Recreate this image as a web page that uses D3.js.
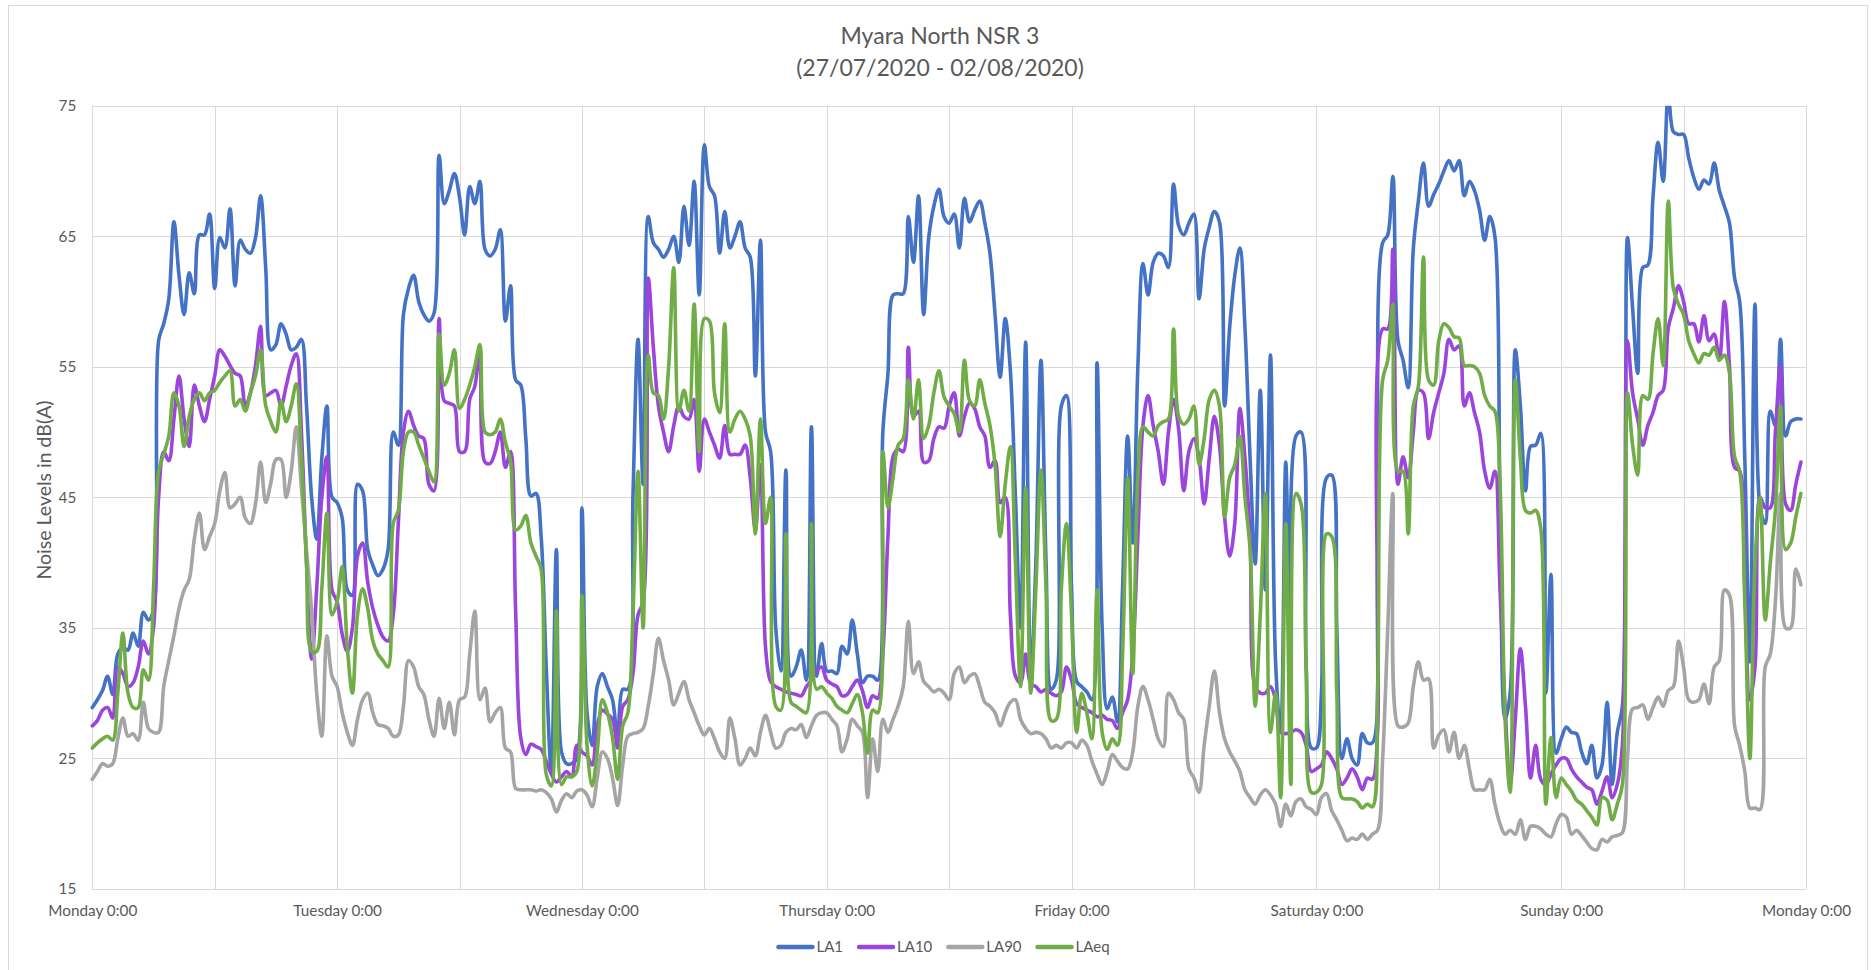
<!DOCTYPE html>
<html>
<head>
<meta charset="utf-8">
<script src="https://cdn.jsdelivr.net/npm/d3@7"></script>
<style>
  html, body { margin: 0; padding: 0; background: #ffffff; }
  svg { display: block; font-family: Lato, "Open Sans", sans-serif; }
</style>
</head>
<body>
<svg id="chart" width="1871" height="970"></svg>
<script>
// ---------------- DATA ----------------
const titleLines = ["Myara North NSR 3", "(27/07/2020 - 02/08/2020)"];
const yAxisTitle = "Noise Levels in dB(A)";
const dayLabels = ["Monday 0:00", "Tuesday 0:00", "Wednesday 0:00", "Thursday 0:00", "Friday 0:00", "Saturday 0:00", "Sunday 0:00", "Monday 0:00"];
const yTicks = [15, 25, 35, 45, 55, 65, 75];
const seriesNames = ["LA1", "LA10", "LA90", "LAeq"];
const stepHours = 0.5; // readings every 30 minutes, Monday 0:00 to Sunday 23:30

const LA1 = [
  // Mon
  28.9, 29.5, 30.2, 31.3, 29.9, 33.0, 33.5, 33.3, 34.6, 33.6, 36.2, 35.6, 36.4, 57.0, 58.3, 60.2, 66.1, 62.0, 59.0, 62.2, 60.6, 65.1, 65.1, 66.7, 61.0, 64.9, 64.1, 67.1, 61.2, 64.7, 64.0, 63.7, 64.9, 68.1, 62.6, 56.3, 56.7, 58.3, 57.5, 56.3, 56.5, 57.1, 52.0, 45.0, 41.8, 48.0, 52.0, 45.0,
  // Tue
  44.6, 43.4, 37.9, 37.5, 46.0, 45.5, 41.0, 39.8, 39.0, 39.5, 41.0, 50.0, 49.0, 59.0, 61.0, 62.0, 60.0, 59.0, 58.5, 59.1, 71.2, 67.5, 68.5, 69.8, 68.0, 65.1, 68.8, 67.5, 69.2, 64.0, 63.5, 64.0, 65.5, 58.5, 61.2, 54.0, 53.6, 49.5, 45.1, 45.3, 42.0, 32.0, 24.0, 41.0, 25.5, 24.6, 24.6, 25.0,
  // Wed
  44.2, 28.5, 26.0, 30.5, 31.5, 30.5, 29.5, 26.6, 30.3, 30.3, 45.0, 57.1, 46.0, 66.5, 64.5, 64.0, 63.4, 64.0, 65.0, 63.0, 67.3, 64.3, 69.2, 60.5, 72.0, 68.8, 68.1, 63.7, 66.9, 64.1, 65.0, 66.1, 64.1, 63.4, 54.3, 64.7, 50.0, 48.5, 35.0, 31.7, 47.1, 31.3, 32.0, 33.3, 31.0, 50.4, 31.3, 33.8,
  // Thu
  31.7, 31.7, 31.5, 33.6, 33.0, 35.6, 33.0, 30.8, 31.3, 31.3, 31.0, 50.0, 54.5, 60.5, 60.6, 60.6, 66.5, 63.0, 68.1, 59.0, 64.9, 67.3, 68.6, 66.5, 66.0, 66.7, 64.1, 67.9, 66.1, 67.0, 67.7, 66.0, 63.7, 59.0, 54.2, 58.7, 54.7, 45.0, 35.0, 56.9, 31.3, 40.0, 55.5, 40.0, 30.3, 31.0, 52.0, 52.8,
  // Fri
  38.0, 30.9, 30.5, 30.1, 29.5, 55.3, 35.0, 28.8, 29.7, 27.8, 38.0, 49.7, 41.5, 55.0, 62.9, 60.5, 63.0, 63.7, 63.5, 62.6, 69.0, 65.8, 65.1, 66.0, 66.7, 60.2, 64.0, 65.7, 66.9, 66.1, 52.0, 58.0, 62.0, 64.1, 58.0, 48.0, 39.9, 53.2, 37.9, 55.9, 32.4, 27.0, 47.7, 28.5, 49.7, 50.0, 32.0, 25.8,
  // Sat
  25.8, 30.0, 46.5, 46.7, 35.0, 25.0, 26.5, 25.0, 24.5, 26.9, 26.2, 26.2, 40.0, 64.5, 65.1, 69.6, 57.0, 55.5, 53.4, 64.0, 67.7, 70.6, 67.3, 68.2, 69.0, 70.0, 70.8, 70.0, 70.8, 68.1, 69.2, 68.5, 67.0, 64.7, 66.5, 65.0, 45.0, 28.0, 30.0, 56.3, 52.0, 45.5, 48.9, 49.0, 49.9, 30.0, 39.1, 25.4,
  // Sun
  26.5, 27.4, 27.0, 26.9, 25.5, 24.6, 26.0, 23.5, 24.5, 29.3, 23.0, 27.0, 29.0, 64.9, 59.5, 54.5, 62.6, 62.8, 68.0, 72.2, 69.2, 76.0, 73.0, 72.8, 72.8, 71.0, 69.5, 68.6, 69.3, 69.0, 70.6, 68.5, 67.3, 66.0, 61.8, 60.0, 48.0, 32.4, 59.8, 44.2, 43.0, 51.6, 50.5, 57.1, 49.7, 50.8, 51.0, 51.0
];

const LA10 = [
  // Mon
  27.5, 27.9, 28.7, 28.9, 28.1, 32.0, 31.5, 30.5, 30.8, 32.0, 34.0, 33.0, 35.0, 45.0, 48.5, 47.8, 51.0, 54.3, 51.0, 48.9, 53.6, 52.0, 50.8, 52.5, 54.3, 56.3, 55.8, 55.1, 54.5, 54.3, 52.0, 53.0, 55.1, 58.1, 52.8, 53.0, 53.2, 52.0, 53.5, 55.1, 56.0, 50.0, 40.0, 32.6, 38.0, 45.0, 48.1, 37.9,
  // Tue
  37.0, 34.5, 33.2, 35.0, 40.5, 41.5, 38.5, 36.5, 35.2, 34.3, 34.0, 36.0, 43.0, 50.0, 51.6, 50.5, 49.7, 49.5, 46.0, 45.5, 58.7, 52.4, 52.2, 52.0, 48.5, 48.5, 52.5, 53.5, 56.3, 47.7, 47.6, 48.5, 50.0, 47.3, 48.5, 36.3, 26.6, 25.3, 26.1, 25.9, 25.7, 24.8, 23.8, 23.2, 23.6, 24.0, 23.6, 26.0,
  // Wed
  25.5, 25.2, 24.5, 27.5, 28.7, 28.4, 28.0, 25.8, 29.0, 29.5, 31.5, 36.0, 37.0, 61.8, 56.5, 52.0, 50.0, 48.5, 50.5, 52.0, 51.2, 51.0, 52.5, 47.0, 51.0, 50.0, 49.0, 48.0, 50.5, 48.3, 48.3, 48.3, 49.0, 46.5, 42.5, 47.5, 33.5, 30.9, 30.5, 30.3, 30.1, 30.0, 29.9, 29.8, 30.5, 31.0, 31.7, 32.0,
  // Thu
  31.0, 30.7, 30.5, 29.8, 29.9, 30.5, 31.0, 30.2, 28.9, 29.8, 29.6, 33.0, 42.0, 48.1, 48.7, 48.5, 56.5, 51.2, 51.6, 47.7, 47.8, 49.5, 50.4, 50.3, 52.0, 53.0, 49.7, 51.2, 52.2, 51.8, 50.4, 49.7, 47.3, 47.8, 44.6, 45.0, 36.0, 31.3, 30.8, 33.0, 30.7, 30.5, 30.1, 30.3, 30.0, 29.8, 30.1, 32.0,
  // Fri
  31.0, 29.2, 28.9, 28.7, 28.5, 28.2, 28.3, 28.0, 27.9, 27.3, 28.5, 29.5, 33.0, 42.0, 50.5, 52.8, 50.5, 48.5, 46.0, 50.0, 52.5, 50.2, 45.5, 48.5, 49.5, 48.0, 44.5, 48.0, 51.2, 49.0, 43.5, 40.5, 43.0, 51.8, 48.0, 42.0, 30.5, 30.0, 30.0, 30.5, 29.5, 27.0, 26.9, 27.0, 27.2, 27.0, 26.0, 24.0,
  // Sat
  24.2, 24.5, 25.5, 25.0, 24.2, 23.0, 23.5, 24.2, 23.6, 22.6, 23.5, 23.4, 27.0, 57.9, 57.9, 64.0, 46.0, 48.1, 46.5, 50.0, 53.2, 53.0, 49.5, 51.5, 53.0, 54.5, 57.1, 56.3, 56.6, 52.0, 53.0, 51.5, 50.0, 47.0, 45.7, 47.0, 38.0, 29.0, 23.0, 28.0, 33.4, 29.0, 23.5, 26.0, 23.4, 23.0, 23.8, 24.5,
  // Sun
  25.0, 25.0, 24.2, 23.6, 23.2, 22.8, 22.6, 21.5, 22.5, 23.6, 22.0, 23.0, 26.0, 57.0, 53.0, 51.0, 49.0, 50.5, 51.5, 52.8, 53.2, 58.0, 59.5, 61.2, 60.0, 58.3, 58.3, 56.9, 58.9, 57.0, 57.5, 55.5, 60.0, 55.0, 47.3, 47.0, 38.0, 29.5, 32.0, 45.0, 44.2, 44.2, 50.0, 55.1, 44.5, 44.0, 46.0, 47.7
];

const LA90 = [
  // Mon
  23.4, 24.0, 24.6, 24.4, 24.6, 26.5, 28.1, 26.7, 26.9, 26.4, 29.3, 27.3, 27.0, 27.0, 30.5, 32.5, 34.4, 36.5, 37.9, 38.7, 41.8, 43.8, 41.0, 42.0, 43.0, 45.5, 46.9, 44.2, 44.5, 45.0, 43.4, 43.0, 44.5, 47.7, 44.6, 46.1, 47.9, 47.9, 45.0, 47.0, 50.4, 45.7, 41.0, 36.3, 30.0, 26.7, 34.4, 31.3,
  // Tue
  30.5, 28.5, 27.0, 26.0, 28.0, 29.5, 30.0, 28.5, 27.6, 27.5, 27.3, 26.7, 26.8, 29.0, 32.5, 32.0, 30.5, 29.9, 28.0, 26.7, 29.6, 27.3, 29.3, 26.8, 29.5, 29.7, 33.0, 36.3, 29.5, 30.4, 27.8, 28.5, 28.9, 25.8, 25.5, 22.7, 22.6, 22.6, 22.6, 22.5, 22.6, 22.4, 21.9, 20.9, 21.8, 22.3, 22.0, 22.5,
  // Wed
  22.6, 22.2, 21.3, 23.5, 25.5, 25.0, 23.5, 21.4, 24.5, 26.7, 26.9, 27.0, 27.3, 29.0, 31.5, 34.2, 32.5, 31.0, 29.1, 30.0, 30.9, 29.5, 28.5, 27.5, 26.8, 27.3, 26.5, 25.5, 25.0, 28.1, 26.5, 24.5, 25.0, 25.8, 25.2, 27.0, 28.3, 27.0, 25.8, 26.0, 27.0, 27.3, 27.2, 27.6, 26.6, 27.5, 28.3, 28.5,
  // Thu
  28.5, 28.0, 27.5, 25.5, 26.5, 28.0, 27.5, 27.0, 22.0, 26.5, 24.0, 28.0, 27.0, 28.0, 29.0, 30.5, 35.5, 31.5, 32.4, 30.9, 30.5, 30.1, 30.3, 30.0, 29.5, 31.5, 32.0, 30.8, 31.3, 31.5, 30.5, 29.3, 29.0, 28.5, 27.5, 28.5, 29.3, 29.5, 28.0, 27.3, 26.9, 27.0, 26.9, 26.5, 25.8, 26.0, 25.8, 26.2,
  // Fri
  26.2, 25.8, 26.4, 26.0, 24.8, 23.8, 23.0, 24.0, 25.3, 24.8, 24.3, 24.2, 25.5, 29.0, 30.5, 29.5, 28.0, 26.5, 25.9, 30.0, 29.5, 28.5, 28.0, 24.2, 23.5, 22.4, 26.0, 29.0, 31.7, 28.5, 26.5, 25.5, 24.8, 24.0, 22.6, 22.0, 21.5, 22.2, 22.6, 22.2, 21.5, 19.8, 21.5, 20.6, 21.7, 21.9, 21.3, 21.1,
  // Sat
  20.7, 22.0, 22.3, 21.0, 20.3, 19.5, 18.7, 18.9, 18.8, 19.2, 18.8, 19.2, 19.5, 25.0, 35.0, 45.3, 27.5, 27.4, 27.7, 30.5, 32.4, 31.0, 31.1, 25.8, 26.8, 27.2, 25.5, 27.0, 25.0, 26.0, 24.2, 22.6, 22.6, 22.6, 23.4, 21.5, 20.0, 19.2, 19.5, 19.2, 20.3, 18.8, 19.8, 19.8, 19.6, 19.2, 19.0, 20.0,
  // Sun
  20.7, 20.5, 19.2, 19.5, 19.1, 18.6, 18.1, 18.0, 18.8, 18.6, 19.0, 19.1, 19.3, 25.0, 28.8, 28.9, 29.1, 28.0, 28.9, 29.7, 29.0, 30.2, 30.5, 34.0, 32.0, 29.5, 29.3, 29.5, 30.7, 29.2, 32.0, 32.5, 37.9, 37.5, 27.5, 26.0, 24.0, 21.2, 21.2, 21.1, 32.0, 33.0, 37.0, 45.3, 35.0, 35.0, 39.5, 38.3
];

const LAeq = [
  // Mon
  25.8, 26.2, 26.5, 26.7, 26.4, 30.0, 34.6, 30.0, 28.9, 28.9, 31.8, 31.0, 38.0, 47.0, 48.3, 49.7, 53.0, 52.0, 48.9, 51.2, 52.5, 53.0, 52.4, 53.0, 53.2, 53.8, 54.3, 54.7, 52.0, 52.5, 51.6, 53.0, 54.3, 56.3, 52.0, 50.8, 50.0, 52.4, 50.8, 52.0, 53.7, 48.1, 40.0, 33.2, 33.2, 38.0, 43.8, 36.0,
  // Tue
  37.0, 39.7, 33.5, 30.0, 36.0, 38.0, 36.5, 34.0, 33.0, 32.5, 32.0, 43.0, 44.0, 48.5, 50.0, 50.0, 49.0, 48.0, 47.0, 46.2, 57.5, 53.6, 54.5, 56.3, 51.8, 52.5, 53.6, 55.0, 56.7, 50.0, 49.8, 50.0, 51.0, 49.2, 47.8, 42.5, 42.8, 43.6, 41.5, 40.5, 39.5, 23.8, 22.9, 36.3, 23.0, 23.6, 23.6, 24.0,
  // Wed
  37.5, 26.0, 22.9, 25.5, 29.5, 28.5, 26.6, 23.4, 27.5, 28.5, 36.0, 47.0, 35.0, 55.9, 53.0, 52.8, 51.0, 55.0, 62.6, 51.6, 53.2, 51.6, 59.8, 48.5, 58.7, 58.5, 53.0, 51.5, 58.3, 50.0, 51.0, 51.6, 51.0, 49.7, 42.2, 51.0, 43.0, 45.0, 29.0, 28.7, 42.2, 29.3, 29.0, 28.7, 28.5, 43.0, 30.3, 30.5,
  // Thu
  30.0, 29.6, 29.0, 28.7, 28.5, 29.2, 29.9, 28.5, 25.4, 28.7, 28.5, 48.5, 44.2, 46.5, 49.0, 49.5, 54.0, 51.0, 54.0, 49.5, 50.5, 53.0, 54.7, 52.7, 52.0, 51.4, 50.0, 55.5, 52.4, 52.0, 54.0, 52.2, 50.5, 47.5, 42.0, 46.0, 48.9, 40.0, 30.5, 45.7, 30.0, 38.0, 47.1, 38.0, 27.9, 28.0, 38.0, 43.0,
  // Fri
  36.0, 27.0, 30.0, 28.5, 26.5, 37.9, 27.0, 25.7, 26.5, 26.0, 33.0, 46.5, 31.5, 46.5, 50.4, 50.0, 49.7, 50.5, 50.8, 51.0, 57.9, 51.2, 50.6, 51.0, 52.0, 47.5, 49.5, 52.5, 53.2, 52.0, 43.5, 46.5, 47.5, 49.7, 45.0, 41.0, 29.0, 36.0, 45.3, 27.0, 30.0, 22.0, 43.0, 23.0, 45.3, 44.5, 32.0, 22.4,
  // Sat
  22.4, 23.0, 42.2, 42.0, 30.0, 22.0, 21.9, 21.9, 21.7, 21.2, 21.5, 21.3, 30.0, 54.0, 55.5, 59.8, 47.0, 47.0, 42.2, 52.0, 53.5, 63.4, 54.0, 53.6, 57.0, 58.3, 58.0, 57.3, 57.2, 55.1, 55.1, 55.0, 54.5, 52.8, 52.0, 51.6, 46.1, 28.0, 22.4, 54.0, 48.0, 44.0, 43.8, 44.0, 42.6, 21.5, 26.6, 22.0,
  // Sun
  23.5, 23.0, 22.5, 21.8, 21.5, 21.0, 20.5, 19.9, 22.0, 21.8, 20.3, 21.5, 23.0, 53.0, 49.0, 46.7, 52.8, 52.5, 56.0, 58.7, 55.1, 67.7, 61.0, 59.8, 59.0, 57.0, 56.0, 55.3, 56.0, 55.9, 56.5, 55.5, 55.9, 54.5, 48.1, 47.0, 37.0, 25.0, 40.0, 45.0, 35.6, 40.0, 44.0, 52.0, 41.0, 41.5, 43.5, 45.3
];

const seriesValues = [LA1, LA10, LA90, LAeq];
const seriesColors = ["#4472C4", "#9B45DC", "#A5A5A5", "#70AD47"];

// ---------------- LAYOUT ----------------
const W = 1871, H = 970;
const plot = { left: 92.3, right: 1806, top: 105.7, bottom: 889 };
const textColor = "#595959";
const gridColor = "#d9d9d9";

const svg = d3.select("#chart");

svg.append("rect")
  .attr("x", 8.5).attr("y", 5.5)
  .attr("width", 1859).attr("height", 990)
  .attr("fill", "#ffffff").attr("stroke", gridColor).attr("stroke-width", 1);

const totalHours = 24 * (dayLabels.length - 1);
const x = d3.scaleLinear().domain([0, totalHours]).range([plot.left, plot.right]);
const y = d3.scaleLinear().domain([yTicks[0], yTicks[yTicks.length - 1]]).range([plot.bottom, plot.top]);

// gridlines
const gridG = svg.append("g");
gridG.selectAll("line.h").data(yTicks).join("line")
  .attr("class", "h")
  .attr("x1", plot.left).attr("x2", plot.right)
  .attr("y1", d => Math.round(y(d)) + 0.5).attr("y2", d => Math.round(y(d)) + 0.5)
  .attr("stroke", gridColor).attr("stroke-width", 1);

const vGrid = d3.range(0, totalHours + 1, 12);
gridG.selectAll("line.v").data(vGrid).join("line")
  .attr("class", "v")
  .attr("y1", plot.top).attr("y2", plot.bottom)
  .attr("x1", d => Math.round(x(d)) + 0.5).attr("x2", d => Math.round(x(d)) + 0.5)
  .attr("stroke", gridColor).attr("stroke-width", 1);

// axes
const dayTicks = dayLabels.map((_, i) => i * 24);
const xAxis = d3.axisBottom(x).tickValues(dayTicks).tickFormat((d, i) => dayLabels[i]).tickSize(0).tickPadding(16);
const gx = svg.append("g").attr("transform", `translate(0,${plot.bottom})`).call(xAxis);
gx.select(".domain").remove();
gx.selectAll("text").attr("fill", textColor).style("font-size", "15.3px").style("font-family", "Lato, sans-serif");

const yAxis = d3.axisLeft(y).tickValues(yTicks).tickSize(0).tickPadding(16);
const gy = svg.append("g").attr("transform", `translate(${plot.left},0)`).call(yAxis);
gy.select(".domain").remove();
gy.selectAll("text").attr("fill", textColor).style("font-size", "15.3px").style("font-family", "Lato, sans-serif");

// clip
svg.append("clipPath").attr("id", "plotClip").append("rect")
  .attr("x", plot.left - 5).attr("y", plot.top)
  .attr("width", plot.right - plot.left + 10).attr("height", plot.bottom - plot.top);

// lines
const line = d3.line()
  .x((d, i) => x(i * stepHours))
  .y(d => y(d))
  .curve(d3.curveCatmullRom.alpha(0.5));

const linesG = svg.append("g").attr("clip-path", "url(#plotClip)");
seriesValues.forEach((vals, k) => {
  linesG.append("path")
    .datum(vals)
    .attr("fill", "none")
    .attr("stroke", seriesColors[k])
    .attr("stroke-width", 3.6)
    .attr("stroke-linejoin", "round")
    .attr("stroke-linecap", "round")
    .attr("d", line);
});

// title
svg.append("g").selectAll("text").data(titleLines).join("text")
  .attr("x", 940).attr("y", (d, i) => 36 + i * 32)
  .attr("dy", "0.35em")
  .attr("text-anchor", "middle")
  .attr("fill", textColor)
  .style("font-size", "23px")
  .style("font-family", "Lato, sans-serif")
  .text(d => d);

// y axis title
svg.append("text")
  .attr("transform", "translate(44,490) rotate(-90)")
  .attr("text-anchor", "middle")
  .attr("dy", "0.35em")
  .attr("fill", textColor)
  .style("font-size", "19.5px")
  .style("font-family", "Lato, sans-serif")
  .text(yAxisTitle);

// legend
const legend = svg.append("g");
const items = [];
seriesNames.forEach((name, k) => {
  const g = legend.append("g");
  g.append("line").attr("x1", 0).attr("x2", 34).attr("y1", 0).attr("y2", 0)
    .attr("stroke", seriesColors[k]).attr("stroke-width", 4.5).attr("stroke-linecap", "round");
  const t = g.append("text").attr("x", 38).attr("dy", "0.35em")
    .attr("fill", textColor).style("font-size", "15px").style("font-family", "Lato, sans-serif")
    .text(name);
  const w = 38 + t.node().getComputedTextLength();
  items.push({ g, w });
});
const gap = 16;
const totalW = d3.sum(items, d => d.w) + gap * (items.length - 1);
let lx = 944 - totalW / 2;
items.forEach(it => {
  it.g.attr("transform", `translate(${lx},947)`);
  lx += it.w + gap;
});
</script>
</body>
</html>
